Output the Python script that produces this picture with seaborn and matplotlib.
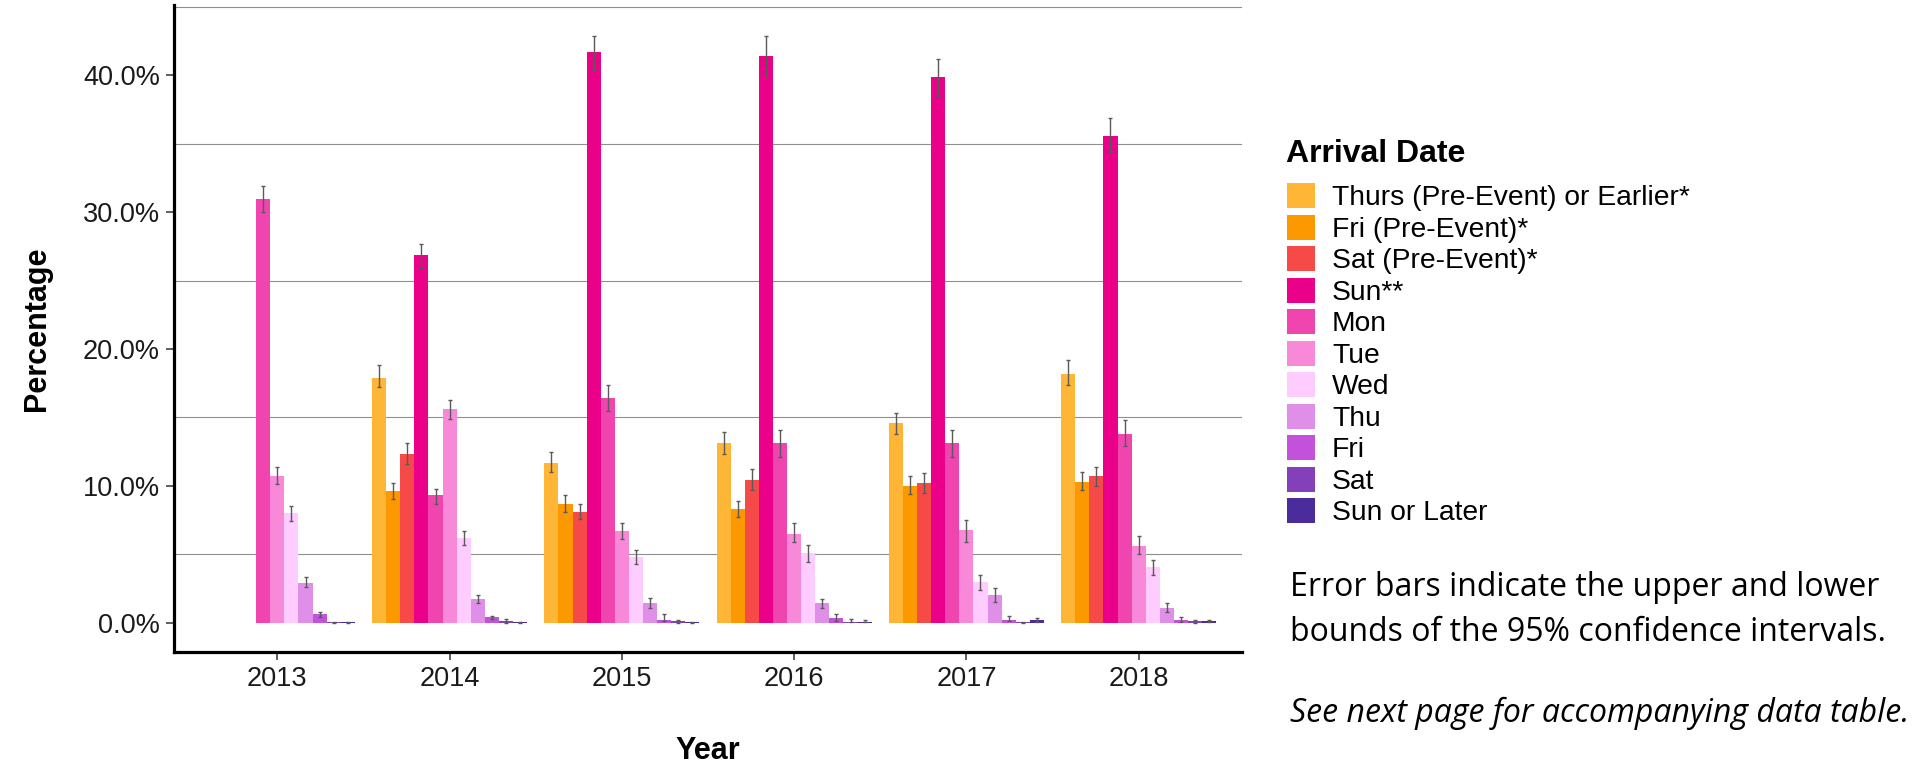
import numpy as np
import pandas as pd
import matplotlib
matplotlib.use("Agg")
import matplotlib.pyplot as plt
import matplotlib.colors as mcolors
from matplotlib.container import BarContainer
from matplotlib.ticker import FixedLocator, FuncFormatter
import seaborn as sns

# ---------------------------------------------------------------- data
years = ["2013", "2014", "2015", "2016", "2017", "2018"]

arrival_days = [
    "Thurs (Pre-Event) or Earlier*", "Fri (Pre-Event)*", "Sat (Pre-Event)*",
    "Sun**", "Mon", "Tue", "Wed", "Thu", "Fri", "Sat", "Sun or Later",
]

day_colors = [
    "#FFB535", "#FC9800", "#F54A48", "#EB0089", "#F044AF", "#F888D8",
    "#FFCCFF", "#DF8FE8", "#C152D9", "#8440B8", "#4A2D9A",
]

nan = np.nan
# share of participants (%) by arrival day, in arrival_days order
pct_2013 = [nan, nan, nan, nan, 31.0, 10.7, 8.0, 2.9, 0.6, 0.02, 0.02]
pct_2014 = [17.9, 9.6, 12.3, 26.9, 9.3, 15.6, 6.2, 1.7, 0.4, 0.1, 0.02]
pct_2015 = [11.7, 8.7, 8.1, 41.7, 16.4, 6.7, 4.8, 1.4, 0.2, 0.1, 0.03]
pct_2016 = [13.1, 8.3, 10.4, 41.4, 13.1, 6.5, 5.1, 1.4, 0.3, 0.06, 0.06]
pct_2017 = [14.6, 10.0, 10.2, 39.9, 13.1, 6.8, 3.0, 2.0, 0.2, 0.03, 0.2]
pct_2018 = [18.2, 10.3, 10.7, 35.6, 13.8, 5.6, 4.1, 1.1, 0.2, 0.1, 0.1]

# lower bounds of the 95% confidence intervals
low_2013 = [nan, nan, nan, nan, 30.0, 10.1, 7.4, 2.6, 0.4, 0.0, 0.0]
low_2014 = [17.2, 9.0, 11.6, 25.9, 8.7, 14.9, 5.7, 1.4, 0.25, 0.0, 0.0]
low_2015 = [11.0, 8.1, 7.6, 40.4, 15.5, 6.1, 4.3, 1.1, 0.12, 0.0, 0.0]
low_2016 = [12.3, 7.7, 9.7, 39.9, 12.1, 5.9, 4.4, 1.1, 0.15, 0.03, 0.03]
low_2017 = [13.8, 9.4, 9.5, 38.5, 12.1, 5.9, 2.4, 1.5, 0.09, 0.0, 0.06]
low_2018 = [17.4, 9.7, 10.0, 34.4, 12.9, 5.0, 3.5, 0.8, 0.03, 0.0, 0.03]

# upper bounds of the 95% confidence intervals
high_2013 = [nan, nan, nan, nan, 31.9, 11.4, 8.5, 3.3, 0.8, 0.05, 0.05]
high_2014 = [18.8, 10.2, 13.1, 27.7, 9.8, 16.3, 6.7, 2.0, 0.5, 0.28, 0.05]
high_2015 = [12.5, 9.3, 8.7, 42.9, 17.4, 7.3, 5.3, 1.8, 0.6, 0.19, 0.06]
high_2016 = [13.9, 8.9, 11.2, 42.9, 14.1, 7.3, 5.7, 1.7, 0.65, 0.25, 0.2]
high_2017 = [15.3, 10.7, 10.9, 41.2, 14.1, 7.5, 3.5, 2.5, 0.5, 0.06, 0.31]
high_2018 = [19.2, 11.0, 11.4, 36.9, 14.8, 6.3, 4.6, 1.4, 0.4, 0.19, 0.17]

y_ticks = [0, 10, 20, 30, 40]
grid_levels = [5, 15, 25, 35, 45]

# ---------------------------------------------------------------- table
pct = [pct_2013, pct_2014, pct_2015, pct_2016, pct_2017, pct_2018]
low = [low_2013, low_2014, low_2015, low_2016, low_2017, low_2018]
high = [high_2013, high_2014, high_2015, high_2016, high_2017, high_2018]

rows = []
for yi, yr in enumerate(years):
    for di, day in enumerate(arrival_days):
        rows.append({"Year": yr, "Arrival Date": day, "Percentage": pct[yi][di],
                     "low": low[yi][di], "high": high[yi][di]})
df = pd.DataFrame(rows).dropna(subset=["Percentage"])

palette = dict(zip(arrival_days, day_colors))

# ---------------------------------------------------------------- figure
sns.set_theme(style="white")
plt.rcParams["font.family"] = ["Liberation Sans", "DejaVu Sans"]

W, H = 1919, 766
fig = plt.figure(figsize=(W / 100, H / 100), dpi=100)
ax = fig.add_axes([174 / W, 1 - 652 / H, (1242 - 174) / W, (652 - 5) / H])

sns.barplot(data=df, x="Year", y="Percentage", hue="Arrival Date",
            order=years, hue_order=arrival_days, palette=palette,
            width=0.9, gap=0, saturation=1, errorbar=None, dodge=True,
            linewidth=0, ax=ax, zorder=3)

# confidence-interval whiskers centred on each drawn bar
color_to_day = {mcolors.to_hex(c): d for d, c in palette.items()}
lookup = df.set_index(["Arrival Date", "Year"])
bar_containers = [c for c in ax.containers if isinstance(c, BarContainer)]
for cont in bar_containers:
    for bar in cont:
        if bar is None or not np.isfinite(bar.get_height()):
            continue
        day = color_to_day.get(mcolors.to_hex(bar.get_facecolor()))
        xc = bar.get_x() + bar.get_width() / 2
        yr = years[int(round(xc))]
        if (day, yr) not in lookup.index:
            continue
        rec = lookup.loc[(day, yr)]
        ax.errorbar(xc, rec["Percentage"],
                    yerr=[[rec["Percentage"] - rec["low"]], [rec["high"] - rec["Percentage"]]],
                    fmt="none", ecolor="#5a5a5a", elinewidth=1.0, capsize=1.3,
                    capthick=1.0, zorder=4)

# axes styling
ax.set_xlim(-0.6, 5.6)
ax.set_ylim(-2.15, 45.15)
ax.yaxis.set_major_locator(FixedLocator(y_ticks))
ax.yaxis.set_major_formatter(FuncFormatter(lambda v, p: f"{v:.1f}%"))
ax.yaxis.set_minor_locator(FixedLocator(grid_levels))
ax.grid(False)
ax.grid(which="minor", axis="y", color="#8f8f8f", linewidth=0.8, zorder=0)
ax.set_axisbelow(True)

for side in ("top", "right"):
    ax.spines[side].set_visible(False)
for side in ("left", "bottom"):
    ax.spines[side].set_color("black")
    ax.spines[side].set_linewidth(2.3)

ax.tick_params(which="major", axis="both", length=6, width=1.1, color="#333333",
               labelsize=19.5, labelcolor="#1a1a1a", direction="out",
               bottom=True, left=True)
ax.tick_params(which="major", axis="y", pad=4)
ax.tick_params(which="major", axis="x", pad=4)
ax.tick_params(which="minor", length=0)

ax.set_xlabel("Year", fontsize=22, fontweight="bold", color="black", va="center")
ax.xaxis.set_label_coords(0.5, -(751 - 652) / 647)
ax.set_ylabel("Percentage", fontsize=22, fontweight="bold", color="black", va="center")
ax.yaxis.set_label_coords(-(174 - 37) / 1068, 0.5)

# legend: heading plus colour keys
handles, labels = ax.get_legend_handles_labels()
if ax.get_legend() is not None:
    ax.get_legend().remove()
fig.text(1286 / W, 1 - 162 / H, "Arrival Date", fontsize=23, fontweight="bold",
         color="black", ha="left", va="baseline")
leg = ax.legend(handles, labels, loc="upper left",
                bbox_to_anchor=(1287 / W, 1 - 183 / H), bbox_transform=fig.transFigure,
                frameon=False, fontsize=20.3, handlelength=1.0, handleheight=1.0,
                labelspacing=0.115, handletextpad=0.6, borderpad=0, borderaxespad=0)
for t in leg.get_texts():
    t.set_color("black")

# explanatory notes
note_font = ["Open Sans", "DejaVu Sans"]
fig.text(1290 / W, 1 - 596 / H, "Error bars indicate the upper and lower",
         fontsize=23, family=note_font, va="baseline", ha="left", color="black")
fig.text(1290 / W, 1 - 641 / H, "bounds of the 95% confidence intervals.",
         fontsize=23, family=note_font, va="baseline", ha="left", color="black")
fig.text(1290 / W, 1 - 722 / H, "See next page for accompanying data table.",
         fontsize=23, family=note_font, style="italic", va="baseline", ha="left",
         color="black")

fig.savefig("out.png", dpi=100, facecolor="white")
